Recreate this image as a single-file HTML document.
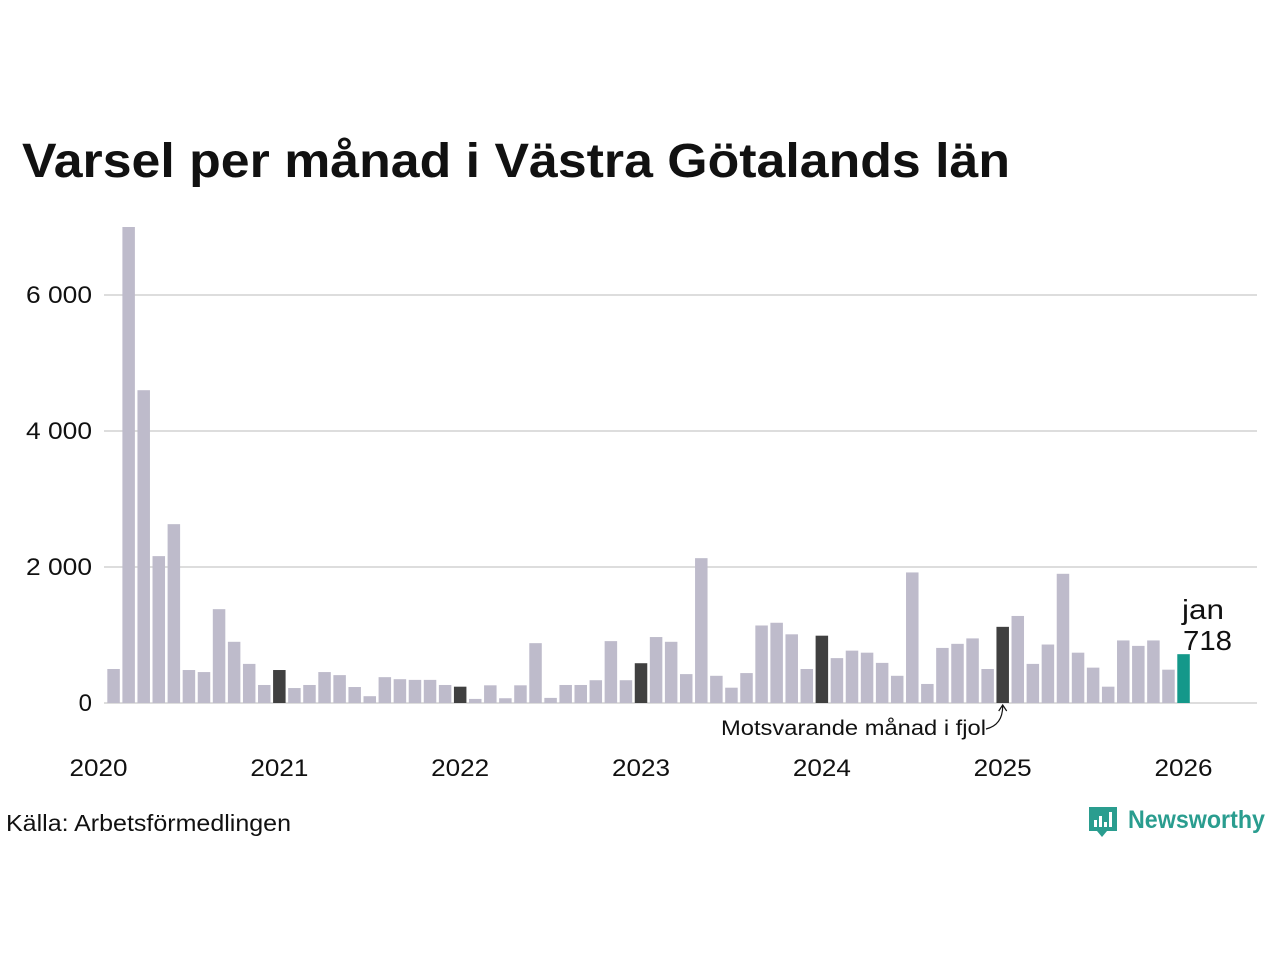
<!DOCTYPE html>
<html><head><meta charset="utf-8"><style>
html,body{margin:0;padding:0;background:#fff;width:1280px;height:960px;overflow:hidden}
svg text{font-family:"Liberation Sans",sans-serif}
</style></head><body>
<svg id="chart" width="1280" height="960" viewBox="0 0 1280 960" xmlns="http://www.w3.org/2000/svg">
<text x="22" y="177" font-size="48" font-weight="bold" fill="#111" textLength="988" lengthAdjust="spacingAndGlyphs">Varsel per månad i Västra Götalands län</text>
<g id="grid"></g>
<g id="bars"></g>
<g id="xaxis"></g>
<text x="1182" y="619" font-size="28" fill="#111" textLength="42" lengthAdjust="spacingAndGlyphs">jan</text>
<text id="lastval" x="1183" y="650" font-size="28" fill="#111" textLength="49" lengthAdjust="spacingAndGlyphs">718</text>
<text x="721" y="735" font-size="21" fill="#111" textLength="265" lengthAdjust="spacingAndGlyphs">Motsvarande månad i fjol</text>
<path id="annopath" d="" fill="none" stroke="#111" stroke-width="1.2"/>
<text x="6" y="831" font-size="23" fill="#111" textLength="285" lengthAdjust="spacingAndGlyphs">Källa: Arbetsförmedlingen</text>
<g>
<path d="M1089 807 h28 v24 h-10 l-5 6 l-5 -6 h-8 z" fill="#2a9d8f"/>
<rect x="1094" y="820" width="3" height="7" fill="#fff"/><rect x="1099" y="816" width="3" height="11" fill="#fff"/><rect x="1104" y="822" width="3" height="5" fill="#fff"/><rect x="1109" y="812" width="3" height="15" fill="#fff"/>
<text x="1128" y="828" font-size="25" font-weight="bold" fill="#2a9d8f" textLength="137" lengthAdjust="spacingAndGlyphs">Newsworthy</text>
</g>
</svg>
<script>
const values = [500,7000,4600,2160,2630,485,455,1380,900,575,265,
485,220,265,455,410,235,100,380,350,340,340,265,
240,60,260,70,260,880,75,265,265,335,910,335,
585,970,900,425,2130,400,225,440,1140,1180,1010,500,
990,660,770,740,590,400,1920,280,810,870,950,500,
1120,1280,575,860,1900,740,520,240,920,840,920,490,
718];
const startMonth = 1; // Feb 2020 (0 = Jan)
const yTicks = [0,2000,4000,6000];
const yTickLabels = ["0","2 000","4 000","6 000"];
const xYears = [2020,2021,2022,2023,2024,2025,2026];

const NS="http://www.w3.org/2000/svg";
const y0=703, pxPer=0.068, x0=98.5, step=15.07, bw=12.5;
const yS=v=>y0-v*pxPer;
const xS=i=>x0+(i+startMonth)*step;
function mk(t,a){const e=document.createElementNS(NS,t);for(const k in a)e.setAttribute(k,a[k]);return e;}
const grid=document.getElementById('grid');
yTicks.forEach((t,i)=>{
  const l=mk('line',{x1:104,x2:1257,y1:yS(t),y2:yS(t),stroke:'#ddd','stroke-width':2});
  
  
  grid.appendChild(l);
  const lab=yTickLabels[i];
  const attrs={x:92,y:yS(t)+8,'font-size':24,fill:'#111','text-anchor':'end'};
  if(lab.length>1){attrs.textLength=66;attrs.lengthAdjust='spacingAndGlyphs';}
  const tx=mk('text',attrs);
  tx.textContent=lab;
  
  
  grid.appendChild(tx);
});
const bars=document.getElementById('bars');
const n=values.length;
values.forEach((v,i)=>{
  const m=(i+startMonth)%12;
  let col='#bebbcb';
  if(i===n-1) col='#14988a';
  else if(m===(n-1+startMonth)%12) col='#404040';
  const r=mk('rect',{x:xS(i)-bw/2,y:yS(v),width:bw,height:v*pxPer,fill:col});
  
  
  bars.appendChild(r);
});
const xa=document.getElementById('xaxis');
xYears.forEach((yr,k)=>{
  const t=mk('text',{x:x0+k*12*step,y:776,'font-size':24,fill:'#111','text-anchor':'middle',textLength:58,lengthAdjust:'spacingAndGlyphs'});
  t.textContent=yr;
  
  
  xa.appendChild(t);
});
const pi=n-13, px=xS(pi);
document.getElementById('annopath').setAttribute('d',`M986 729 Q${px} 725 ${px} 706 M${px-4} 711 L${px} 705 L${px+4} 711`);
document.getElementById('lastval').textContent=values[n-1];
</script>
</body></html>
